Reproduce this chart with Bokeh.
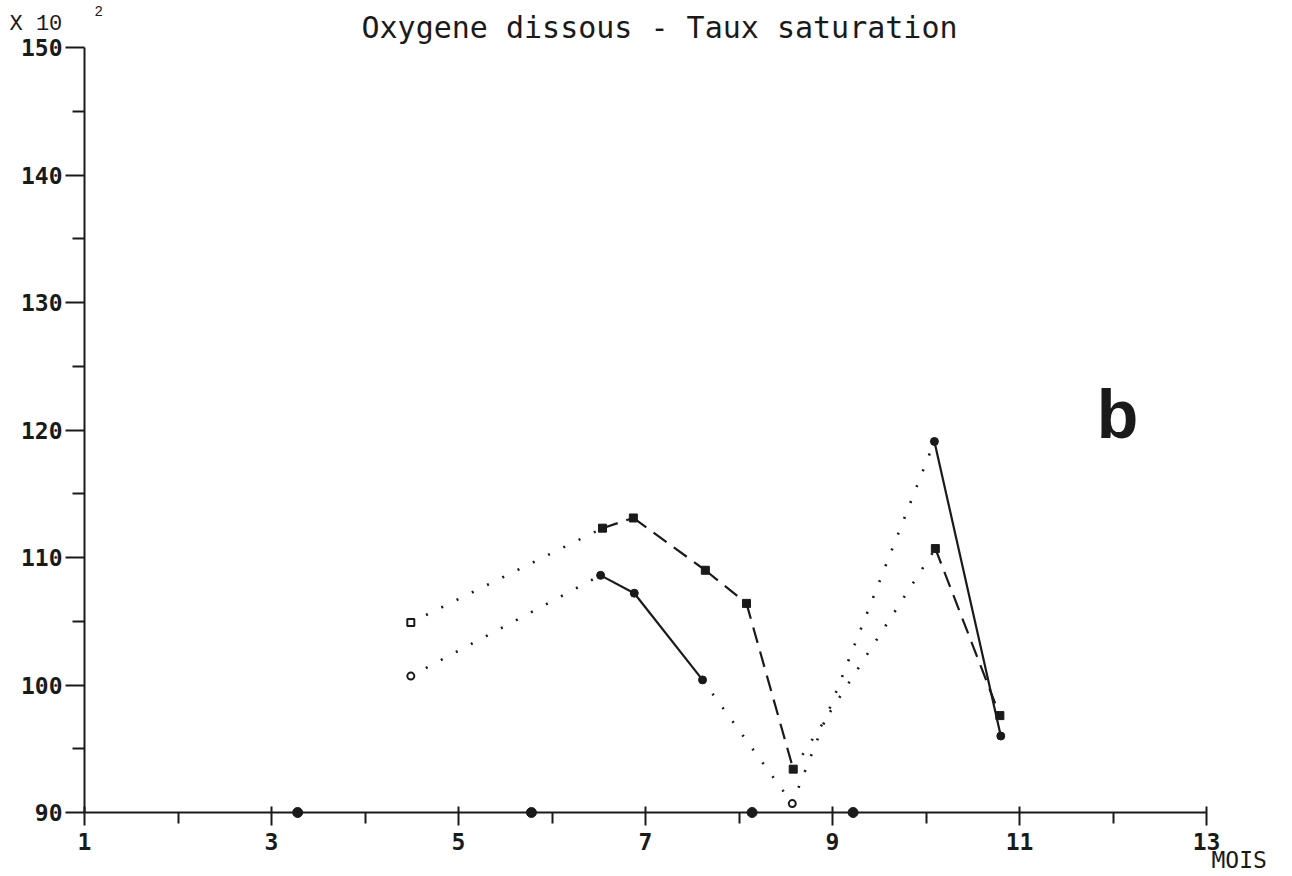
from bokeh.plotting import figure
from bokeh.models import Range1d, FixedTicker, Label
from bokeh.embed import file_html
from bokeh.resources import INLINE

# ---------------- data ----------------
# series A : dashed line, square markers
months_a = [4.49, 6.54, 6.87, 7.64, 8.08, 8.58, 10.10, 10.79]
sat_a = [104.9, 112.3, 113.1, 109.0, 106.4, 93.4, 110.7, 97.6]
open_a = [True, False, False, False, False, False, False, False]
links_a = ["dotted", "dashed", "dashed", "dashed", "dashed", "dotted", "dashed"]

# series B : solid line, circle markers
months_b = [4.49, 6.52, 6.88, 7.61, 8.57, 10.09, 10.80]
sat_b = [100.7, 108.6, 107.2, 100.4, 90.7, 119.1, 96.0]
open_b = [True, False, False, False, True, False, False]
links_b = ["dotted", "solid", "solid", "dotted", "dotted", "solid"]

# values below the scale, drawn on the axis
months_low = [3.28, 5.78, 8.14, 9.22]
sat_low = [90, 90, 90, 90]

x_ticks = [1, 3, 5, 7, 9, 11, 13]
x_minor = [2, 4, 6, 8, 10, 12]
y_ticks = [90, 100, 110, 120, 130, 140, 150]
y_minor = [95, 105, 115, 125, 135, 145]

title_text = "Oxygene dissous - Taux saturation"
x_unit = "MOIS"
y_scale_text = "X 10"
y_scale_exp = "2"
panel_tag = "b"

# ---------------- layout ----------------
W, H = 1292, 876
AX_LEFT, AX_RIGHT = 84, 1206      # canvas px of x = 1 and x = 13
AX_TOP, AX_BOTTOM = 47, 812       # canvas px of y = 150 and y = 90
INK = "#1a1a1a"
MONO = "DejaVu Sans Mono"

x_min, x_max = x_ticks[0], x_ticks[-1]
y_min, y_max = y_ticks[0], y_ticks[-1]
ppx = (AX_RIGHT - AX_LEFT) / (x_max - x_min)
ppy = (AX_BOTTOM - AX_TOP) / (y_max - y_min)

# the frame covers the whole canvas; axes sit at fixed locations inside it
p = figure(width=W, height=H, output_backend="svg", toolbar_location=None,
           min_border=0,
           x_range=Range1d(x_min - AX_LEFT / ppx, x_min + (W - AX_LEFT) / ppx),
           y_range=Range1d(y_min - (H - AX_BOTTOM) / ppy, y_min + AX_BOTTOM / ppy))
p.outline_line_color = None
p.xgrid.visible = False
p.ygrid.visible = False
p.background_fill_color = "white"
p.border_fill_color = "white"

xa = p.xaxis[0]
xa.fixed_location = y_min
xa.bounds = (x_min, x_max)
xa.ticker = FixedTicker(ticks=x_ticks, minor_ticks=x_minor)
ya = p.yaxis[0]
ya.fixed_location = x_min
ya.bounds = (y_min, y_max)
ya.ticker = FixedTicker(ticks=y_ticks, minor_ticks=y_minor)

for ax in (xa, ya):
    ax.axis_line_color = INK
    ax.axis_line_width = 2
    ax.major_tick_line_color = INK
    ax.major_tick_line_width = 2
    ax.minor_tick_line_color = INK
    ax.minor_tick_line_width = 2
    ax.major_label_text_font = MONO
    ax.major_label_text_font_style = "bold"
    ax.major_label_text_font_size = "23px"
    ax.major_label_text_color = INK

xa.major_tick_in = 6
xa.major_tick_out = 13
xa.minor_tick_in = 0
xa.minor_tick_out = 11
xa.major_label_standoff = 7

ya.major_tick_in = 0
ya.major_tick_out = 19
ya.minor_tick_in = 0
ya.minor_tick_out = 12
ya.major_label_standoff = 3

DASH = {"solid": "solid", "dashed": "16 9", "dotted": "2 15"}


def draw_series(xs, ys, opens, links, marker):
    for i, style in enumerate(links):
        p.line([xs[i], xs[i + 1]], [ys[i], ys[i + 1]], line_color=INK,
               line_width=2.2 if style != "dotted" else 2.6, line_dash=DASH[style])
    fx = [x for x, o in zip(xs, opens) if not o]
    fy = [y for y, o in zip(ys, opens) if not o]
    ox = [x for x, o in zip(xs, opens) if o]
    oy = [y for y, o in zip(ys, opens) if o]
    p.scatter(fx, fy, marker=marker, size=8, fill_color=INK, line_color=INK, line_width=1)
    p.scatter(ox, oy, marker=marker, size=7, fill_color="white", line_color=INK, line_width=2)


draw_series(months_a, sat_a, open_a, links_a, "square")
draw_series(months_b, sat_b, open_b, links_b, "circle")
p.scatter(months_low, sat_low, marker="circle", size=10, fill_color=INK, line_color=INK)


def canvas_label(text, cx, cy, font, size, style="normal", align="left"):
    # cx, cy: canvas pixels from the top-left corner (text centred vertically on cy)
    p.add_layout(Label(x=cx, y=H - cy, x_units="screen", y_units="screen",
                       text=text, text_font=font, text_font_size=size, text_font_style=style,
                       text_align=align, text_baseline="middle", text_color=INK))


canvas_label(title_text, 659, 27, MONO, "30px", align="center")
canvas_label(y_scale_text, 9, 24, "Liberation Mono", "22px")
canvas_label(y_scale_exp, 94, 10, "Liberation Mono", "14px")
canvas_label(x_unit, 1211, 859, MONO, "23px")
canvas_label(panel_tag, 1117, 413, "Liberation Sans", "68px", style="bold", align="center")

open("out.html", "w").write(file_html(p, INLINE))
